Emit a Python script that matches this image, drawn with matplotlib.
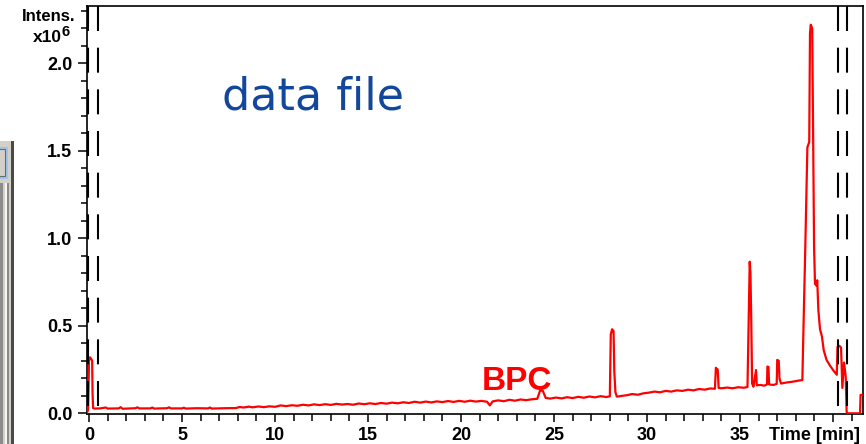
import matplotlib
matplotlib.use("Agg")
import matplotlib.pyplot as plt
from matplotlib.patches import Rectangle
from matplotlib.ticker import MultipleLocator, FixedLocator

# BPC trace: retention time (min) and intensity (x10^6)
time_min = [
    -0.10, -0.05, 0.00, 0.05, 0.12, 0.17, 0.19, 0.22, 0.30,
    0.6, 0.9, 1.0, 1.6, 1.7, 1.8, 2.5, 2.6, 2.7, 3.3, 3.4, 3.5,
    4.2, 4.3, 4.4, 5.0, 5.1, 5.2, 5.8, 6.4, 6.5, 6.6, 7.3, 7.9,
    8.1, 8.3, 8.6, 8.8, 9.1, 9.4, 9.7, 10.0, 10.3, 10.6, 10.9,
    11.2, 11.5, 11.8, 12.1, 12.4, 12.7, 13.0, 13.3, 13.6, 13.9,
    14.2, 14.5, 14.8, 15.1, 15.4, 15.7, 16.0, 16.3, 16.6, 16.9,
    17.2, 17.5, 17.8, 18.1, 18.4, 18.7, 19.0, 19.3, 19.6, 19.9,
    20.2, 20.5, 20.8, 21.1, 21.4, 21.55, 21.7, 22.0, 22.3, 22.6,
    22.9, 23.2, 23.5, 23.8, 24.1, 24.25, 24.4, 24.55, 24.8, 25.1,
    25.4, 25.7, 26.0, 26.3, 26.6, 26.9, 27.2, 27.5, 27.8, 28.0,
    28.05, 28.12, 28.2, 28.24, 28.3, 28.38, 28.6, 28.9, 29.2,
    29.5, 29.8, 30.1, 30.4, 30.7, 31.0, 31.3, 31.6, 31.9, 32.2,
    32.5, 32.8, 33.1, 33.4, 33.65, 33.7, 33.8, 33.85, 34.0, 34.3,
    34.6, 34.9, 35.2, 35.40, 35.45, 35.52, 35.56, 35.60, 35.65,
    35.72, 35.86, 35.90, 36.1, 36.3, 36.45, 36.47, 36.53, 36.56,
    36.8, 36.97, 37.0, 37.08, 37.12, 37.2, 37.5, 37.8, 38.1, 38.35,
    38.40, 38.50, 38.62, 38.72, 38.76, 38.80, 38.88, 38.93, 38.98,
    39.03, 39.10, 39.15, 39.21, 39.30, 39.40, 39.50, 39.65, 39.85,
    40.05, 40.20, 40.24, 40.35, 40.43, 40.50, 40.59, 40.68, 40.73,
    40.75, 41.45, 41.48, 41.70,
]
intensity = [
    0.005, 0.020, 0.300, 0.320, 0.310, 0.300, 0.120, 0.030, 0.027,
    0.028, 0.033, 0.027, 0.028, 0.035, 0.026, 0.029, 0.034, 0.028,
    0.028, 0.033, 0.027, 0.029, 0.034, 0.028, 0.028, 0.032, 0.027,
    0.029, 0.028, 0.033, 0.027, 0.029, 0.030,
    0.036, 0.033, 0.038, 0.034, 0.039, 0.035, 0.040, 0.037, 0.045,
    0.041, 0.046, 0.043, 0.049, 0.045, 0.051, 0.047, 0.052, 0.048,
    0.054, 0.050, 0.053, 0.049, 0.056, 0.052, 0.057, 0.053, 0.059,
    0.055, 0.061, 0.057, 0.063, 0.059, 0.066, 0.061, 0.067, 0.062,
    0.068, 0.064, 0.070, 0.065, 0.071, 0.066, 0.072, 0.067, 0.071,
    0.066, 0.045, 0.068, 0.074, 0.069, 0.077, 0.072, 0.079, 0.075,
    0.080, 0.083, 0.130, 0.128, 0.088, 0.084, 0.090, 0.085, 0.092,
    0.087, 0.094, 0.089, 0.096, 0.091, 0.098, 0.093, 0.097,
    0.450, 0.480, 0.470, 0.240, 0.120, 0.095, 0.099, 0.103, 0.110,
    0.106, 0.114, 0.118, 0.124, 0.120, 0.128, 0.124, 0.131, 0.128,
    0.135, 0.131, 0.139, 0.135, 0.142, 0.140, 0.260, 0.250, 0.145,
    0.143, 0.147, 0.143, 0.149, 0.146, 0.150, 0.450, 0.866, 0.800,
    0.550, 0.170, 0.152, 0.247, 0.160, 0.162, 0.158, 0.165, 0.267,
    0.265, 0.165, 0.162, 0.168, 0.305, 0.300, 0.200, 0.170, 0.176,
    0.180, 0.186, 0.190, 0.440, 0.910, 1.520, 1.550, 2.170, 2.220,
    2.200, 1.550, 0.950, 0.740, 0.730, 0.760, 0.590, 0.480, 0.440,
    0.360, 0.305, 0.270, 0.240, 0.220, 0.380, 0.385, 0.375, 0.145,
    0.290, 0.210, 0.010, 0.000, 0.000, 0.105, 0.105,
]

# time-window markers (dashed)
window_lines = [-0.05, 0.5, 40.25, 40.74]

x_major = [0, 5, 10, 15, 20, 25, 30, 35, 40]
x_labels = ["0", "5", "10", "15", "20", "25", "30", "35", ""]
y_major = [0.0, 0.5, 1.0, 1.5, 2.0]

W, H = 866, 444
bold = {"family": "Liberation Sans", "weight": "bold"}


def fx(x):
    return x / W


def fy(y):
    return 1 - y / H


def box(x, y, w, h, **kw):
    # rectangle given in pixel coords from the top-left corner
    fig.add_artist(Rectangle((fx(x), fy(y + h)), w / W, h / H,
                             transform=fig.transFigure, **kw))


fig = plt.figure(figsize=(W / 100, H / 100), dpi=100)
ax = fig.add_axes([fx(87), fy(414), (863 - 87) / W, (414 - 6) / H])

ax.plot(time_min, intensity, color="#ff0000", lw=1.6, zorder=3)

ylo, yhi = -0.004, 2.327
for t in window_lines:
    ax.plot([t, t], [yhi, ylo], color="black", lw=1.5,
            dashes=(12, 8), zorder=4, clip_on=False)

ax.set_xlim(-0.1075, 41.61)
ax.set_ylim(ylo, yhi)

ax.xaxis.set_major_locator(FixedLocator(x_major))
ax.set_xticklabels(x_labels)
ax.xaxis.set_minor_locator(MultipleLocator(1))
ax.yaxis.set_major_locator(FixedLocator(y_major))
ax.set_yticklabels([f"{v:.1f}" for v in y_major])
ax.yaxis.set_minor_locator(MultipleLocator(0.1))

ax.tick_params(axis="x", which="major", direction="out", length=6,
               width=1.1, pad=3.5)
ax.tick_params(axis="x", which="minor", direction="out", length=5, width=1.1)
ax.tick_params(axis="y", which="major", direction="out", length=6.5,
               width=1.1, pad=4)
ax.tick_params(axis="y", which="minor", direction="out", length=4.3,
               width=1.1)
for lab in ax.get_xticklabels() + ax.get_yticklabels():
    lab.set_fontproperties(bold)
    lab.set_fontsize(13)

for side in ["left", "bottom", "top", "right"]:
    ax.spines[side].set_linewidth(1.2)

# axis captions
fig.text(fx(75), fy(21), "Intens.", ha="right", va="baseline",
         fontsize=12, **bold)
fig.text(fx(62), fy(42), "x10", ha="right", va="baseline",
         fontsize=12.5, **bold)
fig.text(fx(62), fy(36), "6", ha="left", va="baseline",
         fontsize=10.5, **bold)
fig.text(fx(860), fy(440), "Time [min]", ha="right", va="baseline",
         fontsize=13, **bold)

# annotations
fig.text(fx(222), fy(110), "data file", ha="left", va="baseline",
         fontsize=32, color="#12479b", family="DejaVu Sans")
fig.text(fx(482), fy(390), "BPC", ha="left", va="baseline",
         fontsize=24, color="#ff0000", **bold)

# window frame fragment at the left edge
box(0, 141, 14, 303, facecolor="#d4d0c8", edgecolor="none")
box(0, 183, 2.7, 261, facecolor="#8c8c8c", edgecolor="none")
box(4.7, 183, 2.6, 261, facecolor="#f6f6f6", edgecolor="none")
box(7.3, 183, 2.0, 261, facecolor="#8a8a8a", edgecolor="none")
box(11.3, 141, 2.7, 303, facecolor="#4a4a4a", edgecolor="none")
box(-2, 148, 8.5, 30, facecolor="#d4d0c8", edgecolor="#9cc4ee", lw=1.5)
box(-2, 149.5, 7, 27, facecolor="none", edgecolor="#6a6a6a", lw=0.8)

fig.savefig("out.png", dpi=100)
